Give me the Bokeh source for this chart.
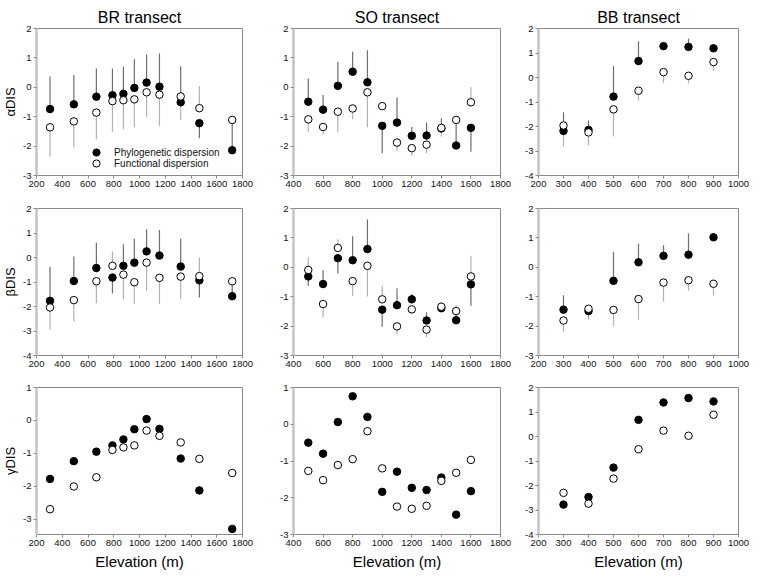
from bokeh.plotting import figure
from bokeh.layouts import column, row
from bokeh.models import Range1d, FixedTicker, ColumnDataSource, Legend, LegendItem
from bokeh.embed import file_html
from bokeh.resources import INLINE

FONT = "Liberation Sans"

# ---------------- data ----------------
br_elev = [305, 490, 665, 790, 875, 960, 1055, 1155, 1320, 1465, 1720]
so_elev = [500, 600, 700, 800, 900, 1000, 1100, 1200, 1300, 1400, 1500, 1600]
bb_elev = [300, 400, 500, 600, 700, 800, 900]

# alpha DIS
br_a_phy = [-0.74, -0.58, -0.32, -0.27, -0.22, -0.02, 0.16, 0.02, -0.51, -1.22, -2.14]
br_a_fun = [-1.36, -1.16, -0.86, -0.47, -0.44, -0.41, -0.17, -0.25, -0.31, -0.71, -1.11]
br_a_phy_bar = [0.38, 0.42, 0.64, 0.64, 0.70, 0.95, 1.12, 1.15, 0.72, -1.73, -1.05]
br_a_fun_bar = [-2.35, -2.05, -1.77, -1.51, -1.43, -1.36, -1.00, -1.31, -1.11, 0.04, -1.11]

so_a_phy = [-0.49, -0.76, 0.05, 0.53, 0.17, -1.31, -1.20, -1.65, -1.64, -1.40, -1.98, -1.38]
so_a_fun = [-1.09, -1.35, -0.83, -0.72, -0.17, -0.64, -1.88, -2.07, -1.95, -1.38, -1.11, -0.51]
so_a_phy_bar = [0.30, -0.26, 0.87, 1.21, 1.26, -2.24, -0.35, -1.35, -1.20, -1.05, -1.11, -2.19]
so_a_fun_bar = [-1.51, -1.61, -1.54, -1.09, -1.36, -0.64, -2.15, -2.33, -2.24, -1.67, -1.11, 0.00]

bb_a_phy = [-2.18, -2.14, -0.78, 0.67, 1.28, 1.25, 1.19]
bb_a_fun = [-1.96, -2.24, -1.30, -0.54, 0.22, 0.07, 0.63]
bb_a_phy_bar = [-1.42, -1.76, 0.47, 1.48, 1.28, 1.59, 1.19]
bb_a_fun_bar = [-2.82, -2.78, -2.41, -0.95, -0.21, -0.24, 0.26]

# beta DIS
br_b_phy = [-1.77, -0.96, -0.43, -0.82, -0.34, -0.21, 0.25, 0.08, -0.37, -0.93, -1.58]
br_b_fun = [-2.04, -1.74, -0.97, -0.34, -0.70, -1.01, -0.21, -0.83, -0.78, -0.76, -0.97]
br_b_phy_bar = [-0.38, 0.04, 0.60, -1.47, 0.54, 0.77, 1.15, 1.12, 0.77, -1.63, -0.97]
br_b_fun_bar = [-2.94, -2.62, -1.87, 0.25, -1.70, -1.90, -1.36, -1.90, -1.70, 0.00, -0.97]

so_b_phy = [-0.31, -0.57, 0.31, 0.24, 0.62, -1.44, -1.29, -1.09, -1.81, -1.39, -1.80, -0.58]
so_b_fun = [-0.09, -1.25, 0.66, -0.47, 0.05, -1.09, -2.01, -1.43, -2.12, -1.34, -1.49, -0.31]
so_b_phy_bar = [-0.63, -0.10, -0.21, 1.06, 1.63, -2.02, -0.71, -0.91, -1.53, -1.20, -1.49, -1.31]
so_b_fun_bar = [0.33, -1.70, 0.95, -0.97, -0.99, -0.63, -2.27, -1.59, -2.38, -1.55, -1.30, 0.39]

bb_b_phy = [-1.44, -1.49, -0.46, 0.17, 0.39, 0.43, 1.02]
bb_b_fun = [-1.81, -1.41, -1.45, -1.08, -0.52, -0.44, -0.56]
bb_b_phy_bar = [-0.95, -1.49, 0.52, 0.80, 0.75, 1.15, 1.02]
bb_b_fun_bar = [-2.19, -1.78, -2.00, -1.78, -1.17, -0.80, -0.95]

# gamma DIS
br_g_phy = [-1.78, -1.24, -0.95, -0.76, -0.58, -0.27, 0.04, -0.26, -1.16, -2.13, -3.30]
br_g_fun = [-2.70, -2.01, -1.73, -0.90, -0.82, -0.76, -0.31, -0.47, -0.67, -1.17, -1.60]

so_g_phy = [-0.50, -0.80, 0.06, 0.76, 0.20, -1.84, -1.29, -1.73, -1.79, -1.45, -2.46, -1.82]
so_g_fun = [-1.27, -1.52, -1.11, -0.95, -0.19, -1.20, -2.24, -2.30, -2.22, -1.54, -1.32, -0.97]

bb_g_phy = [-2.78, -2.47, -1.27, 0.68, 1.39, 1.57, 1.43]
bb_g_fun = [-2.30, -2.74, -1.72, -0.52, 0.24, 0.03, 0.89]

titles = ["BR transect", "SO transect", "BB transect"]
ylabels = ["\u03b1DIS", "\u03b2DIS", "\u03b3DIS"]
xlabel = "Elevation (m)"
legend_labels = ["Phylogenetic dispersion", "Functional dispersion"]

br_xticks = [200, 400, 600, 800, 1000, 1200, 1400, 1600, 1800]
so_xticks = [400, 600, 800, 1000, 1200, 1400, 1600, 1800]
bb_xticks = [200, 300, 400, 500, 600, 700, 800, 900, 1000]
yticks_a = [[-3, -2, -1, 0, 1, 2], [-3, -2, -1, 0, 1, 2], [-4, -3, -2, -1, 0, 1, 2]]
yticks_b = [[-4, -3, -2, -1, 0, 1, 2], [-3, -2, -1, 0, 1, 2], [-3, -2, -1, 0, 1, 2]]
yticks_g = [[-3, -2, -1, 0, 1], [-3, -2, -1, 0, 1], [-4, -3, -2, -1, 0, 1, 2]]
yrange_a = [(-3, 2), (-3, 2), (-4, 2)]
yrange_b = [(-4, 2), (-3, 2), (-3, 2)]
yrange_g = [(-3.47, 1), (-3, 1), (-4, 2)]

# ---------------- layout ----------------
FW = [206, 207, 200]
FH = 147
BL = [31, 27, 24]
BR_ = [24, 14, 11]
BT = [28, 13, 12]
BB_ = [20, 20, 37]


def panel(ci, ri, xs, phy, fun, phy_bar, fun_bar, xr, xticks, yr, yticks,
          title=None, ylabel=None, xl=None, legend=False):
    p = figure(frame_width=FW[ci], frame_height=FH,
               min_border_left=BL[ci], min_border_right=BR_[ci],
               min_border_top=BT[ri], min_border_bottom=BB_[ri],
               x_range=Range1d(*xr), y_range=Range1d(*yr),
               output_backend="svg", toolbar_location=None,
               background_fill_color="white", border_fill_color="white")
    p.grid.visible = False
    p.outline_line_color = "#8a8a8a"
    p.outline_line_width = 1
    if title:
        p.title.text = title
        p.title.text_font = FONT
        p.title.text_font_size = "16px"
        p.title.text_font_style = "normal"
        p.title.align = "center"
        p.title.standoff = 6
        p.title.text_color = "#000000"
    for ax, ticks in ((p.xaxis[0], xticks), (p.yaxis[0], yticks)):
        ax.ticker = FixedTicker(ticks=ticks)
        ax.major_label_overrides = {t: str(t) for t in ticks}
        ax.minor_tick_line_color = None
        ax.major_tick_in = 0
        ax.major_tick_out = 3
        ax.major_tick_line_color = "#8a8a8a"
        ax.major_label_text_font = FONT
        ax.major_label_text_font_size = "9.5px"
        ax.major_label_text_color = "#111111"
        ax.major_label_standoff = 2
    p.xaxis.axis_line_color = "#8a8a8a"
    p.yaxis.axis_line_color = "#c4c4c4"
    p.yaxis.axis_line_width = 2.5
    if ylabel:
        p.yaxis.axis_label = ylabel
        p.yaxis.axis_label_text_font = FONT
        p.yaxis.axis_label_text_font_size = "13px"
        p.yaxis.axis_label_text_font_style = "normal"
        p.yaxis.axis_label_text_color = "#000000"
        p.yaxis.axis_label_standoff = 2
    if xl:
        p.xaxis.axis_label = xl
        p.xaxis.axis_label_text_font = FONT
        p.xaxis.axis_label_text_font_size = "15px"
        p.xaxis.axis_label_text_font_style = "normal"
        p.xaxis.axis_label_text_color = "#000000"
        p.xaxis.axis_label_standoff = 4

    src = ColumnDataSource(dict(x=xs, phy=phy, fun=fun,
                                pb=phy_bar if phy_bar else phy,
                                fb=fun_bar if fun_bar else fun))
    if phy_bar:
        p.segment(x0="x", y0="phy", x1="x", y1="pb", source=src,
                  line_color="#6e6e6e", line_width=1.2)
        p.segment(x0="x", y0="fun", x1="x", y1="fb", source=src,
                  line_color="#b2b2b2", line_width=1.2)
    r1 = p.scatter("x", "phy", source=src, size=7.5, marker="circle",
                   fill_color="black", line_color="black", line_width=1)
    r2 = p.scatter("x", "fun", source=src, size=7.5, marker="circle",
                   fill_color="white", line_color="black", line_width=1)
    if legend:
        common = dict(orientation="vertical", glyph_width=18, glyph_height=18,
                      label_height=18, padding=0, margin=0, label_standoff=9,
                      label_text_font=FONT, label_text_font_size="10px",
                      label_text_color="#111111",
                      background_fill_alpha=0, border_line_alpha=0)
        lg1 = Legend(items=[LegendItem(label=legend_labels[0], renderers=[r1])],
                     location=(51, 14), **common)
        lg2 = Legend(items=[LegendItem(label=legend_labels[1], renderers=[r2])],
                     location=(51, 3), **common)
        p.add_layout(lg1)
        p.add_layout(lg2)
    return p


row_a = [
    panel(0, 0, br_elev, br_a_phy, br_a_fun, br_a_phy_bar, br_a_fun_bar, (200, 1800), br_xticks,
          yrange_a[0], yticks_a[0], title=titles[0], ylabel=ylabels[0], legend=True),
    panel(1, 0, so_elev, so_a_phy, so_a_fun, so_a_phy_bar, so_a_fun_bar, (400, 1800), so_xticks,
          yrange_a[1], yticks_a[1], title=titles[1]),
    panel(2, 0, bb_elev, bb_a_phy, bb_a_fun, bb_a_phy_bar, bb_a_fun_bar, (200, 1000), bb_xticks,
          yrange_a[2], yticks_a[2], title=titles[2]),
]
row_b = [
    panel(0, 1, br_elev, br_b_phy, br_b_fun, br_b_phy_bar, br_b_fun_bar, (200, 1800), br_xticks,
          yrange_b[0], yticks_b[0], ylabel=ylabels[1]),
    panel(1, 1, so_elev, so_b_phy, so_b_fun, so_b_phy_bar, so_b_fun_bar, (400, 1800), so_xticks,
          yrange_b[1], yticks_b[1]),
    panel(2, 1, bb_elev, bb_b_phy, bb_b_fun, bb_b_phy_bar, bb_b_fun_bar, (200, 1000), bb_xticks,
          yrange_b[2], yticks_b[2]),
]
row_g = [
    panel(0, 2, br_elev, br_g_phy, br_g_fun, None, None, (200, 1800), br_xticks,
          yrange_g[0], yticks_g[0], ylabel=ylabels[2], xl=xlabel),
    panel(1, 2, so_elev, so_g_phy, so_g_fun, None, None, (400, 1800), so_xticks,
          yrange_g[1], yticks_g[1], xl=xlabel),
    panel(2, 2, bb_elev, bb_g_phy, bb_g_fun, None, None, (200, 1000), bb_xticks,
          yrange_g[2], yticks_g[2], xl=xlabel),
]

layout = column(row(*row_a, spacing=0), row(*row_b, spacing=0), row(*row_g, spacing=0), spacing=0)

with open("out.html", "w") as f:
    f.write(file_html(layout, INLINE))
